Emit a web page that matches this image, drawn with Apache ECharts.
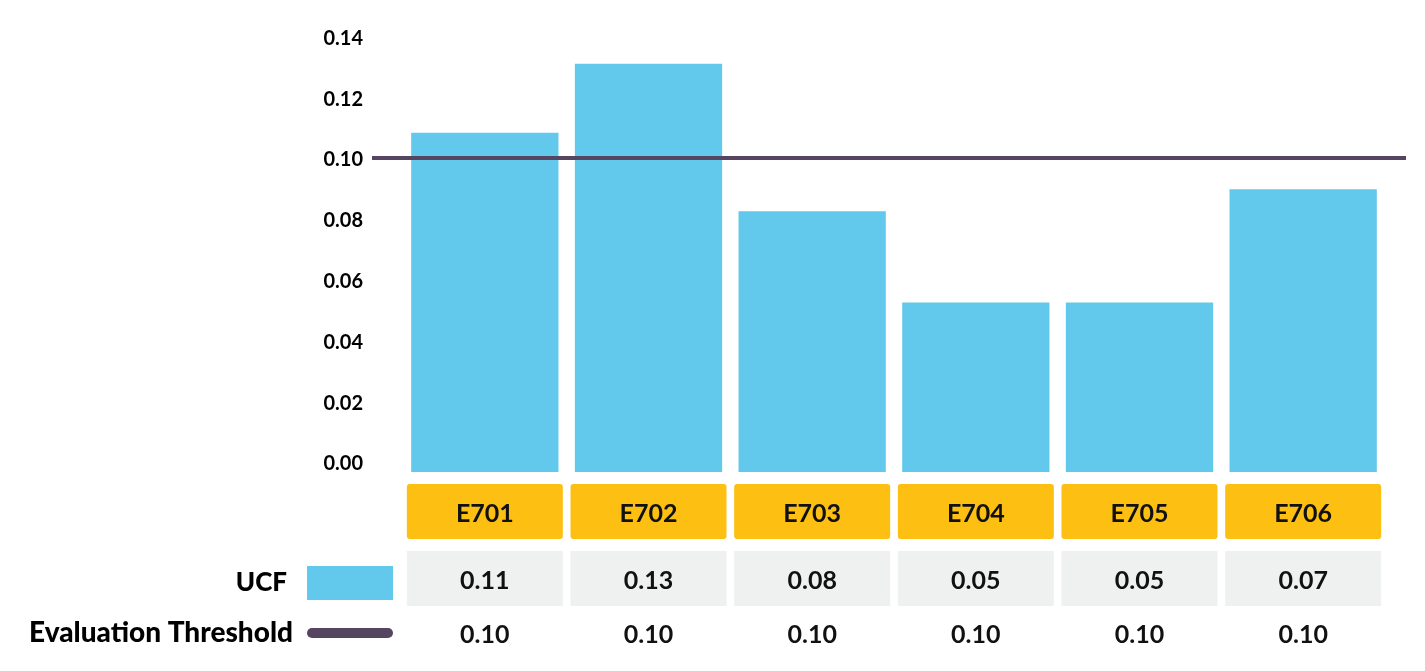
<!DOCTYPE html>
<html>
<head>
<meta charset="utf-8">
<script src="https://cdn.jsdelivr.net/npm/echarts@6/dist/echarts.min.js"></script>
<style>html,body{margin:0;padding:0;background:#fff}#c{width:1425px;height:671px}</style>
</head>
<body>
<div id="c"></div>
<script>
const categories = ['E701', 'E702', 'E703', 'E704', 'E705', 'E706'];
const ucfValues = [0.108, 0.130, 0.083, 0.054, 0.054, 0.090];
const ucfLabels = ['0.11', '0.13', '0.08', '0.05', '0.05', '0.07'];
const thresholdValue = 0.10;
const thresholdLabels = ['0.10', '0.10', '0.10', '0.10', '0.10', '0.10'];
const yTicks = [0, 0.02, 0.04, 0.06, 0.08, 0.10, 0.12, 0.14];

const FONT = 'Lato, "Open Sans", sans-serif';
const BLUE = '#63c9ec';
const PURPLE = '#554560';

const chart = echarts.init(document.getElementById('c'), null, {renderer: 'canvas'});
chart.setOption({
  animation: false,
  backgroundColor: '#ffffff',
  textStyle: {fontFamily: FONT},
  legend: [
    {
      data: ['UCF'], selectedMode: false, orient: 'vertical',
      right: 1027, top: 561, align: 'right',
      itemWidth: 86, itemHeight: 34, icon: 'rect',
      textStyle: {fontFamily: FONT, fontSize: 26, fontWeight: 900, color: '#000', padding: [0, 15, 0, 0]}
    },
    {
      data: ['Evaluation Threshold'], selectedMode: false, orient: 'vertical',
      right: 1027, top: 614, align: 'right',
      itemWidth: 86, itemHeight: 10,
      icon: 'path://M5,0 H81 A5,5 0 0 1 81,10 H5 A5,5 0 0 1 5,0 Z',
      textStyle: {fontFamily: FONT, fontSize: 28, fontWeight: 900, color: '#000', padding: [0, 9, 0, 0]}
    }
  ],
  grid: [
    {left: 403, right: 40, top: 38, bottom: 199},
    {left: 372, right: 19, top: 38, bottom: 199}
  ],
  xAxis: [
    {
      type: 'category', gridIndex: 0, data: categories, position: 'bottom',
      axisLine: {show: false}, axisTick: {show: false}, splitLine: {show: false},
      axisLabel: {
        interval: 0, margin: 12, width: 156, height: 51, lineHeight: 51, padding: [4, 0, 0, 0],
        backgroundColor: '#fdbf11', borderRadius: 3, align: 'center', verticalAlign: 'top',
        fontFamily: FONT, fontSize: 25, fontWeight: 700, color: '#111'
      }
    },
    {
      type: 'category', gridIndex: 0, data: categories, position: 'bottom', offset: 67,
      axisLine: {show: false}, axisTick: {show: false}, splitLine: {show: false},
      axisLabel: {
        interval: 0, margin: 12, width: 156, height: 51, lineHeight: 51, padding: [4, 0, 0, 0],
        backgroundColor: '#eff0f0', align: 'center', verticalAlign: 'top',
        fontFamily: FONT, fontSize: 25, fontWeight: 700, color: '#111',
        formatter: (v, i) => ucfLabels[i]
      }
    },
    {
      type: 'category', gridIndex: 0, data: categories, position: 'bottom', offset: 121,
      axisLine: {show: false}, axisTick: {show: false}, splitLine: {show: false},
      axisLabel: {
        interval: 0, margin: 12, width: 156, height: 51, lineHeight: 51, padding: [4, 0, 0, 0],
        align: 'center', verticalAlign: 'top',
        fontFamily: FONT, fontSize: 25, fontWeight: 700, color: '#111',
        formatter: (v, i) => thresholdLabels[i]
      }
    },
    {type: 'value', gridIndex: 1, min: 0, max: 1, show: false}
  ],
  yAxis: [
    {
      type: 'value', gridIndex: 0, min: -0.00263, max: 0.1401,
      axisLine: {show: false}, axisTick: {show: false}, splitLine: {show: false},
      axisLabel: {
        customValues: yTicks, margin: 40,
        formatter: v => v.toFixed(2),
        fontFamily: FONT, fontSize: 20, fontWeight: 700, color: '#000'
      }
    },
    {type: 'value', gridIndex: 0, min: 0, max: 0.1382, show: false},
    {type: 'value', gridIndex: 1, min: 0, max: 0.1382, show: false}
  ],
  series: [
    {
      name: 'UCF', type: 'bar', xAxisIndex: 0, yAxisIndex: 1,
      data: ucfValues, barWidth: '90%',
      itemStyle: {color: BLUE}
    },
    {
      name: 'Evaluation Threshold', type: 'line', xAxisIndex: 3, yAxisIndex: 2,
      data: [[0, thresholdValue], [1, thresholdValue]],
      symbol: 'none', lineStyle: {color: PURPLE, width: 4}, itemStyle: {color: PURPLE},
      z: 5
    }
  ]
});
</script>
</body>
</html>
